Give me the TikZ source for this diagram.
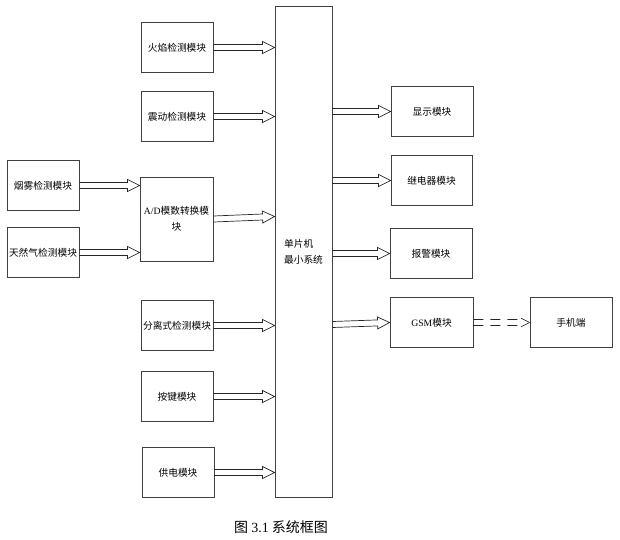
\documentclass[tikz,border=0pt]{standalone}
\usepackage{fontspec}
\setmainfont{Liberation Serif}
\newfontfamily\cjk{Noto Sans CJK SC}
\usetikzlibrary{calc}
\tikzset{
  box/.style={draw=black!75, line width=0.9pt, fill=white, inner sep=1pt,
    minimum width=72pt, minimum height=50pt,
    font=\cjk\fontsize{9.7}{16}\selectfont, align=center},
  blockarrow/.style={draw=black!85, line width=0.7pt,
    to path={
      ($(\tikztostart)!3pt!90:(\tikztotarget)$) --
      ($(\tikztotarget)!12pt!(\tikztostart)!3pt!90:(\tikztotarget)$) --
      ($(\tikztotarget)!12pt!(\tikztostart)!6pt!90:(\tikztotarget)$) --
      (\tikztotarget) --
      ($(\tikztotarget)!12pt!(\tikztostart)!6pt!-90:(\tikztotarget)$) --
      ($(\tikztotarget)!12pt!(\tikztostart)!3pt!-90:(\tikztotarget)$) --
      ($(\tikztostart)!3pt!-90:(\tikztotarget)$)
    }},
  halfarrow/.style={draw=black!85, line width=0.7pt, dash pattern=on 10pt off 7pt,
    to path={
      ($(\tikztostart)!3pt!#1:(\tikztotarget)$) --
      ($(\tikztotarget)!12pt!(\tikztostart)!3pt!#1:(\tikztotarget)$) --
      ($(\tikztotarget)!12pt!(\tikztostart)!6pt!#1:(\tikztotarget)$) --
      (\tikztotarget)
    }},
  caption/.style={font=\cjk\fontsize{14}{16}\selectfont, inner sep=0pt}
}
\begin{document}
\begin{tikzpicture}[x=1pt, y=-1pt]
\useasboundingbox (0,0) rectangle (620,539);
% left column
\node[box] (fire)  at (177,47.5)  {火焰检测模块};
\node[box] (shock) at (177,116.5) {震动检测模块};
\node[box] (smoke) at (43,185.5)  {烟雾检测模块};
\node[box] (gas)   at (43,252.5)  {天然气检测模块};
\node[box, minimum width=73pt, minimum height=84pt] (ad) at (176.5,219) {{\rmfamily A/D}模数转换模\\块};
\node[box] (sep)   at (177,325.5) {分离式检测模块};
\node[box] (key)   at (177,396.5) {按键模块};
\node[box] (power) at (178,472.5) {供电模块};
% MCU
\node[box, minimum width=57pt, minimum height=491pt, align=left] (mcu) at (303.5,251.5) {单片机\\最小系统};
% right column
\node[box, minimum width=82pt] (disp)  at (432,111.5)   {显示模块};
\node[box, minimum width=81pt] (relay) at (431.5,180.5) {继电器模块};
\node[box, minimum width=82pt] (alarm) at (431,253.5)   {报警模块};
\node[box, minimum width=83pt] (gsm)   at (431.5,322.5) {{\rmfamily GSM}模块};
\node[box, minimum width=82pt] (phone) at (571,322.5)   {手机端};
% arrows
\draw[blockarrow] (smoke.east) to (smoke.east -| ad.west);
\draw[blockarrow] (gas.east) to (gas.east -| ad.west);
\draw[blockarrow] (fire.east) to (fire.east -| mcu.west);
\draw[blockarrow] (shock.east) to (shock.east -| mcu.west);
\draw[blockarrow] (ad.east) to ($(ad.east -| mcu.west)+(0,-2.5)$);
\draw[blockarrow] (sep.east) to (sep.east -| mcu.west);
\draw[blockarrow] (key.east) to (key.east -| mcu.west);
\draw[blockarrow] (power.east) to (power.east -| mcu.west);
\draw[blockarrow] (disp.west -| mcu.east) to (disp.west);
\draw[blockarrow] (relay.west -| mcu.east) to (relay.west);
\draw[blockarrow] (alarm.west -| mcu.east) to (alarm.west);
\draw[blockarrow] ($(gsm.west -| mcu.east)+(0,2)$) to (gsm.west);
\draw[halfarrow=90] (gsm.east) to (phone.west);
\draw[halfarrow=-90] (gsm.east) to (phone.west);
% caption
\node[caption] (cap) at (281,527) {图 {\rmfamily 3.1} 系统框图};
\end{tikzpicture}
\end{document}
